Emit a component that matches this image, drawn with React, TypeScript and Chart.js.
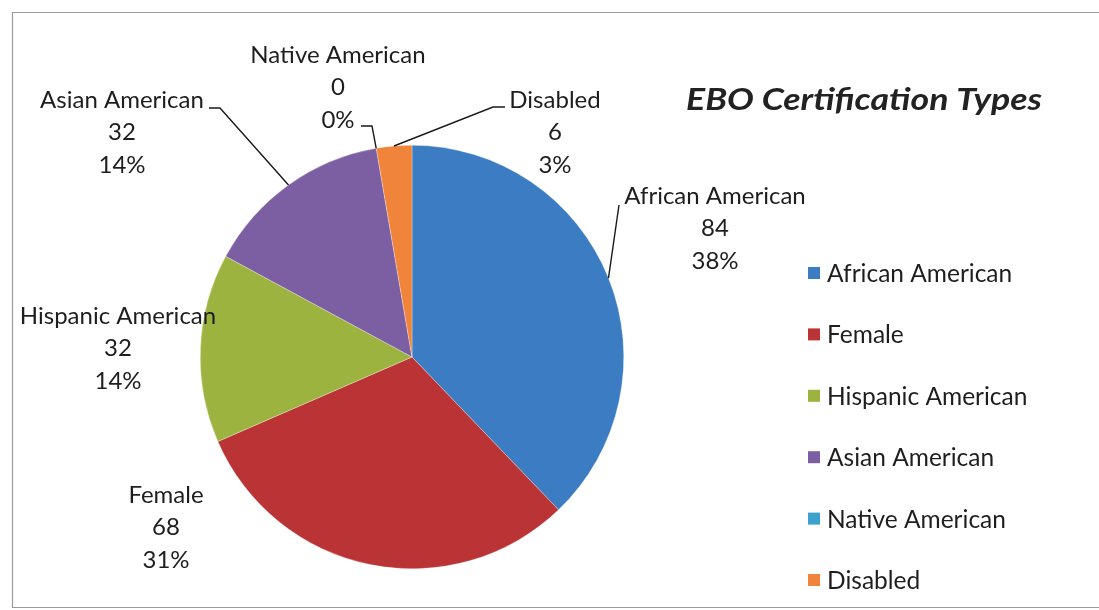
import React, { useEffect, useRef } from "react";
import { Chart, registerables } from "chart.js";

Chart.register(...registerables);

// ---- data ----
const CATEGORIES = [
  "African American",
  "Female",
  "Hispanic American",
  "Asian American",
  "Native American",
  "Disabled",
];
const COUNTS = [84, 68, 32, 32, 0, 6];
const TITLE = "EBO Certification Types";

// ---- styles ----
const COLORS = ["#3b7cc3", "#bb3435", "#9db33f", "#7b5fa2", "#3aa2cc", "#f0843a"];
const FONT = "Lato, 'Noto Sans', sans-serif";
const TEXT_COLOR = "#1e1e1e";

// label layout (offsets from pie centre, px) and leader-line start/bend points
const LABEL_LAYOUT = [
  { x: 303, y: -161, leader: [[207, -152]] },
  { x: -246, y: 138, leader: null },
  { x: -294, y: -41, leader: null },
  { x: -290, y: -257, leader: [[-203, -249], [-192, -249]] },
  { x: -74, y: -302, leader: [[-51, -231], [-40, -231]] },
  { x: 143, y: -257, leader: [[93, -250], [81, -250]] },
];

const labelPlugin = {
  id: "customLabels",
  afterDraw(chart: any) {
    const ctx = chart.ctx;
    const meta = chart.getDatasetMeta(0);
    const data = chart.data.datasets[0].data as number[];
    const total = data.reduce((a, b) => a + b, 0);
    const first = meta.data[0];
    const cx = first.x;
    const cy = first.y;
    ctx.save();

    // frame
    ctx.strokeStyle = "#9a9a9a";
    ctx.lineWidth = 1.2;
    ctx.beginPath();
    ctx.moveTo(1099, 12.5);
    ctx.lineTo(12.5, 12.5);
    ctx.lineTo(12.5, 607.5);
    ctx.lineTo(1099, 607.5);
    ctx.stroke();

    // data labels
    ctx.font = `24px ${FONT}`;
    ctx.fillStyle = TEXT_COLOR;
    ctx.textAlign = "center";
    ctx.textBaseline = "middle";
    meta.data.forEach((arc: any, i: number) => {
      const lay = LABEL_LAYOUT[i];
      const lines = [
        chart.data.labels[i],
        String(data[i]),
        Math.round((data[i] / total) * 100) + "%",
      ];
      lines.forEach((t: string, k: number) => {
        ctx.fillText(t, cx + lay.x, cy + lay.y + k * 32.5);
      });
      if (lay.leader) {
        const mid = (arc.startAngle + arc.endAngle) / 2;
        const ex = cx + Math.cos(mid) * arc.outerRadius;
        const ey = cy + Math.sin(mid) * arc.outerRadius;
        ctx.strokeStyle = "#1a1a1a";
        ctx.lineWidth = 1.4;
        ctx.beginPath();
        lay.leader.forEach((p: number[], k: number) => {
          if (k === 0) ctx.moveTo(cx + p[0], cy + p[1]);
          else ctx.lineTo(cx + p[0], cy + p[1]);
        });
        ctx.lineTo(ex, ey);
        ctx.stroke();
      }
    });

    // title (stretched to the reference width)
    ctx.font = `italic bold 31px ${FONT}`;
    ctx.fillStyle = "#222";
    ctx.textAlign = "center";
    const tw = ctx.measureText(TITLE).width;
    const sx = 356 / tw;
    ctx.save();
    ctx.translate(864, 100);
    ctx.scale(sx, 1);
    ctx.fillText(TITLE, 0, 0);
    ctx.restore();

    // legend
    ctx.font = `24.5px ${FONT}`;
    ctx.textAlign = "left";
    const colors = chart.data.datasets[0].backgroundColor as string[];
    chart.data.labels.forEach((lab: string, i: number) => {
      const y = 273 + i * 61.4;
      ctx.fillStyle = colors[i];
      ctx.fillRect(808, y - 6, 12, 12);
      ctx.fillStyle = TEXT_COLOR;
      ctx.fillText(lab, 827, y + 1);
    });
    ctx.restore();
  },
};

export default function App() {
  const ref = useRef<HTMLCanvasElement>(null);
  useEffect(() => {
    if (!ref.current) return;
    const chart = new Chart(ref.current, {
      type: "pie",
      data: {
        labels: CATEGORIES,
        datasets: [
          {
            data: COUNTS,
            backgroundColor: COLORS,
            borderWidth: 0.5,
            borderColor: "rgba(255,255,255,0.6)",
          },
        ],
      },
      options: {
        animation: false,
        responsive: false,
        devicePixelRatio: 1,
        layout: { padding: { left: 200, right: 475, top: 145, bottom: 41 } },
        plugins: {
          legend: { display: false },
          title: { display: false },
          tooltip: { enabled: false },
        },
      },
      plugins: [labelPlugin],
    });
    return () => chart.destroy();
  }, []);
  return (
    <div style={{ position: "fixed", left: 0, top: 0, width: 1099, height: 610, background: "#fff" }}>
      <canvas ref={ref} width={1099} height={610} style={{ width: 1099, height: 610 }} />
    </div>
  );
}
